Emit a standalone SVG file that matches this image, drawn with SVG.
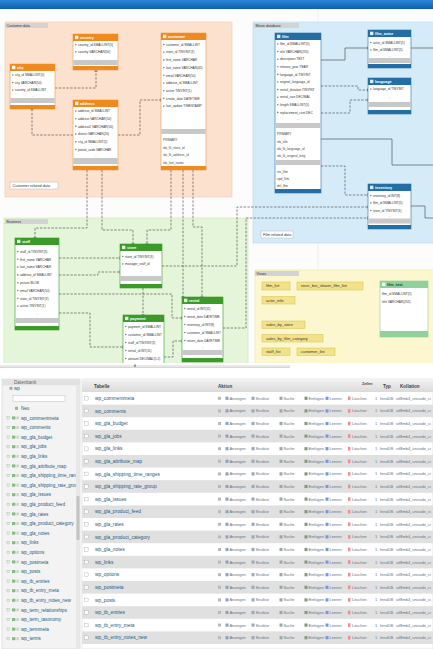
<svg xmlns="http://www.w3.org/2000/svg" width="433" height="649" viewBox="0 0 433 649" font-family="'Liberation Sans', Arial, sans-serif">
<defs>
  <linearGradient id="bar" x1="0" y1="0" x2="0" y2="1">
    <stop offset="0" stop-color="#2c88d8"/><stop offset="1" stop-color="#0f5dab"/>
  </linearGradient>
  <linearGradient id="thead" x1="0" y1="0" x2="0" y2="1">
    <stop offset="0" stop-color="#f3f3f3"/><stop offset="1" stop-color="#dadada"/>
  </linearGradient>
  <marker id="end" viewBox="-2 -2 4 4" markerWidth="4" markerHeight="4" markerUnits="userSpaceOnUse" orient="auto">
    <path d="M0,-1.6V1.6" stroke="#333" stroke-width="0.7"/>
  </marker>
  <clipPath id="canvas"><rect x="0" y="9" width="433" height="354"/></clipPath>
  <clipPath id="navclip"><rect x="2" y="379" width="74" height="270"/></clipPath>
  <!-- one row of the table list: checkbox, action links, engine info -->
  <g id="act">
    <rect x="84.5" y="-1.8" width="3.6" height="3.6" fill="#fff" stroke="#a8a8a8" stroke-width=".4"/>
    <rect x="218" y="-1.5" width="3" height="3" fill="#b9b9b9"/>
    <rect x="225.5" y="-1.6" width="3" height="3.2" fill="#8fa3bb"/>
    <text class="ac" x="229.5" y="1.4">Anzeigen</text>
    <rect x="251.5" y="-1.6" width="3" height="3.2" fill="#9aa7b5"/>
    <text class="ac" x="255.5" y="1.4">Struktur</text>
    <rect x="279.5" y="-1.6" width="3" height="3.2" fill="#9ba8a0"/>
    <text class="ac" x="283.5" y="1.4">Suche</text>
    <rect x="304.5" y="-1.6" width="3" height="3.2" fill="#7e9a7e"/>
    <text class="ac" x="308.5" y="1.4">Einfügen</text>
    <rect x="325.5" y="-1.6" width="3" height="3.2" fill="#7d95d4"/>
    <text class="ac" x="329.5" y="1.4">Leeren</text>
    <rect x="348" y="-1.8" width="2.4" height="3.6" fill="#ee8d8d"/>
    <text class="ac" x="352" y="1.4">Löschen</text>
    <text class="ac" x="375" y="1.4">1</text>
    <text class="ac" x="380" y="1.4">InnoDB</text>
    <text class="ac" x="396" y="1.4">utf8mb4_unicode_ci</text>
  </g>
  <!-- navigation tree row icons -->
  <g id="ni">
    <rect x="7" y="-1.2" width="2.4" height="2.4" fill="none" stroke="#8fb58f" stroke-width=".4"/>
    <rect x="12" y="-1.5" width="3.4" height="3" fill="#86b886"/>
    <rect x="16.4" y="-1.5" width="2.6" height="3" fill="#c7d9c7"/>
  </g>
</defs>
<style>
  .r{font-size:3.2px;fill:#333}
  .ix{font-size:3.2px;fill:#444}
  .ht{font-size:3.8px;fill:#fff;font-weight:bold}
  .mo{font-size:3.2px;fill:#9a9a9a;text-anchor:middle}
  .ft{fill:#c8c8c8}
  .bd{fill:#fff;stroke-width:.6}
  .ic{fill:#fff;opacity:.85}
  .dt{fill:#6f8090}
  .o .bd{stroke:#e39a52}.o .hd{fill:#ee8a1e}
  .b .bd{stroke:#2b6f9f}.b .hd{fill:#236ea5}
  .g .bd{stroke:#3b9a27}.g .hd{fill:#3c9a28}
  .lg .bd{stroke:#8ccc98}.lg .hd{fill:#8fd09b}
  .lg .ht{fill:#23452a}
  .cn path{fill:none;stroke:#4a4a4a;stroke-width:.65;marker-end:url(#end)}
  .cn .d{stroke-dasharray:2.4 1.4}
  .lbl rect{fill:#d3d3d3}
  .lbl text{font-size:3.6px;fill:#333}
  .view rect{fill:#f2e389;stroke:#d2bf58;stroke-width:.5}
  .view text{font-size:4px;fill:#333}
  .note rect{fill:#fff;stroke:#b9b9b9;stroke-width:.5}
  .note text{font-size:3.8px;fill:#333}
  .ac{font-size:3.9px;fill:#5b7088}
  .tn{font-size:4.8px;fill:#235a81}
  .nv{font-size:4.6px;fill:#235a81}
  .th{font-size:4.6px;fill:#444;font-weight:bold}
  .alt{fill:#e0e0e0}
</style>

<!-- window title bar -->
<rect x="0" y="0" width="433" height="9" fill="url(#bar)"/>
<rect x="0" y="9" width="433" height="354" fill="#fcfcfc"/>

<g clip-path="url(#canvas)">
  <!-- grid -->
  <path d="M318,9V363" stroke="#e4e4e4" stroke-width=".6"/>

  <!-- layers -->
  <g id="layer-customer">
    <rect x="5" y="22" width="227" height="175" fill="#fde1cf" stroke="#f1c6ab" stroke-width=".6"/>
    <g class="lbl"><rect x="5" y="23" width="43" height="5"/><text x="6.5" y="26.8">Customer data</text></g>
  </g>
  <g id="layer-movie">
    <rect x="253" y="22" width="182" height="221" fill="#d5ebf8" stroke="#b7d6eb" stroke-width=".6"/>
    <g class="lbl"><rect x="254" y="23" width="45" height="5"/><text x="255.5" y="26.8">Movie database</text></g>
  </g>
  <g id="layer-business">
    <rect x="4" y="218" width="244" height="147" fill="#e4f5d9" stroke="#c6e4b3" stroke-width=".6"/>
    <g class="lbl"><rect x="5" y="219" width="43" height="5"/><text x="6.5" y="222.8">Business</text></g>
  </g>
  <g id="layer-views">
    <rect x="255" y="270" width="180" height="95" fill="#fdf7cf" stroke="#ece09c" stroke-width=".6"/>
    <g class="lbl"><rect x="255" y="271" width="44" height="5"/><text x="256.5" y="274.8">Views</text></g>
  </g>

  <!-- relationships -->
  <g id="connectors" class="cn">
    <path class="d" d="M55,88H96V71"/>
    <path class="d" d="M73,135H32V109"/>
    <path class="d" d="M118,135H140V100H161"/>
    <path class="d" d="M87,170V228H35V238"/>
    <path class="d" d="M102,170V230H133V244"/>
    <path class="d" d="M171,170V230H147V244"/>
    <path class="d" d="M183,170V297"/>
    <path class="d" d="M193,170V227H202V297"/>
    <path class="d" d="M59,258H120"/>
    <path class="d" d="M59,275H98V272H120"/>
    <path class="d" d="M59,294H172V318H182"/>
    <path class="d" d="M59,313H90V347H123"/>
    <path class="d" d="M143,288V315"/>
    <path class="d" d="M164,357H173V341H182"/>
    <path class="d" d="M162,266H237V207H368"/>
    <path class="d" d="M223,328H246V218H368"/>
    <path d="M321,60H345V48H368"/>
    <path d="M411,48H436"/>
    <path class="d" d="M321,86H358V90H368"/>
    <path class="d" d="M321,113H350V100H368"/>
    <path d="M321,139H392V165H436"/>
    <path class="d" d="M321,166H345V195H368"/>
    <path d="M411,206H425V218H436"/>
  </g>

  <!-- Customer data -->
  <g id="t-country" class="o">
    <rect class="bd" x="73" y="34" width="45" height="36"/>
    <rect class="hd" x="73" y="34" width="45" height="7"/>
    <rect class="ic" x="75" y="35.7" width="3.4" height="3.4"/>
    <text class="ht" x="80" y="39.3">country</text>
    <circle class="dt" cx="75.8" cy="44.5" r=".8"/><text class="r" x="78" y="45.7">country_id SMALLINT(5)</text>
    <circle class="dt" cx="75.8" cy="51.8" r=".8"/><text class="r" x="78" y="53">country VARCHAR(50)</text>
    <text class="mo" x="95.5" y="58.5">...</text>
    <rect class="ft" x="73.3" y="60" width="44.4" height="5"/>
    <rect class="hd" x="73" y="66" width="45" height="4"/>
  </g>
  <g id="t-city" class="o">
    <rect class="bd" x="10" y="64" width="45" height="45"/>
    <rect class="hd" x="10" y="64" width="45" height="7"/>
    <rect class="ic" x="12" y="65.7" width="3.4" height="3.4"/>
    <text class="ht" x="17" y="69.3">city</text>
    <circle class="dt" cx="12.8" cy="75" r=".8"/><text class="r" x="15" y="76.2">city_id SMALLINT(5)</text>
    <circle class="dt" cx="12.8" cy="82.5" r=".8"/><text class="r" x="15" y="83.7">city VARCHAR(50)</text>
    <circle class="dt" cx="12.8" cy="90" r=".8"/><text class="r" x="15" y="91.2">country_id SMALLINT</text>
    <text class="mo" x="32.5" y="96.5">...</text>
    <rect class="ft" x="10.3" y="98" width="44.4" height="5"/>
    <rect class="hd" x="10" y="105" width="45" height="4"/>
  </g>
  <g id="t-address" class="o">
    <rect class="bd" x="73" y="100" width="45" height="70"/>
    <rect class="hd" x="73" y="100" width="45" height="7"/>
    <rect class="ic" x="75" y="101.7" width="3.4" height="3.4"/>
    <text class="ht" x="80" y="105.3">address</text>
    <circle class="dt" cx="75.8" cy="111" r=".8"/><text class="r" x="78" y="112.2">address_id SMALLINT</text>
    <circle class="dt" cx="75.8" cy="118.7" r=".8"/><text class="r" x="78" y="119.9">address VARCHAR(50)</text>
    <circle class="dt" cx="75.8" cy="126.4" r=".8"/><text class="r" x="78" y="127.6">address2 VARCHAR(50)</text>
    <circle class="dt" cx="75.8" cy="134.1" r=".8"/><text class="r" x="78" y="135.3">district VARCHAR(20)</text>
    <circle class="dt" cx="75.8" cy="141.8" r=".8"/><text class="r" x="78" y="143">city_id SMALLINT(5)</text>
    <circle class="dt" cx="75.8" cy="149.5" r=".8"/><text class="r" x="78" y="150.7">postal_code VARCHAR</text>
    <text class="mo" x="95.5" y="156.5">...</text>
    <rect class="ft" x="73.3" y="158" width="44.4" height="6"/>
    <rect class="hd" x="73" y="166" width="45" height="4"/>
  </g>
  <g id="t-customer" class="o">
    <rect class="bd" x="161" y="33" width="45" height="137"/>
    <rect class="hd" x="161" y="33" width="45" height="7"/>
    <rect class="ic" x="163" y="34.7" width="3.4" height="3.4"/>
    <text class="ht" x="168" y="38.3">customer</text>
    <circle class="dt" cx="163.8" cy="44.5" r=".8"/><text class="r" x="166" y="45.7">customer_id SMALLINT</text>
    <circle class="dt" cx="163.8" cy="52.2" r=".8"/><text class="r" x="166" y="53.4">store_id TINYINT(3)</text>
    <circle class="dt" cx="163.8" cy="59.9" r=".8"/><text class="r" x="166" y="61.1">first_name VARCHAR</text>
    <circle class="dt" cx="163.8" cy="67.6" r=".8"/><text class="r" x="166" y="68.8">last_name VARCHAR(45)</text>
    <circle class="dt" cx="163.8" cy="75.3" r=".8"/><text class="r" x="166" y="76.5">email VARCHAR(50)</text>
    <circle class="dt" cx="163.8" cy="83" r=".8"/><text class="r" x="166" y="84.2">address_id SMALLINT</text>
    <circle class="dt" cx="163.8" cy="90.7" r=".8"/><text class="r" x="166" y="91.9">active TINYINT(1)</text>
    <circle class="dt" cx="163.8" cy="98.4" r=".8"/><text class="r" x="166" y="99.6">create_date DATETIME</text>
    <circle class="dt" cx="163.8" cy="106.1" r=".8"/><text class="r" x="166" y="107.3">last_update TIMESTAMP</text>
    <rect class="ft" x="161.3" y="129" width="44.4" height="5"/>
    <text class="ix" x="163" y="141.2">PRIMARY</text>
    <text class="ix" x="163" y="148.7">idx_fk_store_id</text>
    <text class="ix" x="163" y="156.2">idx_fk_address_id</text>
    <text class="ix" x="163" y="163.7">idx_last_name</text>
    <rect class="hd" x="161" y="166" width="45" height="4"/>
  </g>
  <g id="note-customer" class="note">
    <rect x="10" y="182" width="48" height="7"/>
    <text x="12.5" y="186.8">Customer related data</text>
  </g>

  <!-- Movie database -->
  <g id="t-film" class="b">
    <rect class="bd" x="275" y="33" width="46" height="160"/>
    <rect class="hd" x="275" y="33" width="46" height="7"/>
    <rect class="ic" x="277" y="34.7" width="3.4" height="3.4"/>
    <text class="ht" x="282" y="38.3">film</text>
    <circle class="dt" cx="277.8" cy="44" r=".8"/><text class="r" x="280" y="45.2">film_id SMALLINT(5)</text>
    <circle class="dt" cx="277.8" cy="51.6" r=".8"/><text class="r" x="280" y="52.8">title VARCHAR(255)</text>
    <circle class="dt" cx="277.8" cy="59.2" r=".8"/><text class="r" x="280" y="60.4">description TEXT</text>
    <circle class="dt" cx="277.8" cy="66.8" r=".8"/><text class="r" x="280" y="68">release_year YEAR</text>
    <circle class="dt" cx="277.8" cy="74.4" r=".8"/><text class="r" x="280" y="75.6">language_id TINYINT</text>
    <circle class="dt" cx="277.8" cy="82" r=".8"/><text class="r" x="280" y="83.2">original_language_id</text>
    <circle class="dt" cx="277.8" cy="89.6" r=".8"/><text class="r" x="280" y="90.8">rental_duration TINYINT</text>
    <circle class="dt" cx="277.8" cy="97.2" r=".8"/><text class="r" x="280" y="98.4">rental_rate DECIMAL</text>
    <circle class="dt" cx="277.8" cy="104.8" r=".8"/><text class="r" x="280" y="106">length SMALLINT(5)</text>
    <circle class="dt" cx="277.8" cy="112.4" r=".8"/><text class="r" x="280" y="113.6">replacement_cost DEC</text>
    <text class="mo" x="298" y="119.5">...</text>
    <rect class="ft" x="275.3" y="123" width="45.4" height="5"/>
    <text class="ix" x="277" y="135.2">PRIMARY</text>
    <text class="ix" x="277" y="142.5">idx_title</text>
    <text class="ix" x="277" y="149.8">idx_fk_language_id</text>
    <text class="ix" x="277" y="157.1">idx_fk_original_lang</text>
    <rect class="ft" x="275.3" y="160" width="45.4" height="5"/>
    <text class="ix" x="277" y="172.7">ins_film</text>
    <text class="ix" x="277" y="180">upd_film</text>
    <text class="ix" x="277" y="187.2">del_film</text>
    <rect class="hd" x="275" y="189" width="46" height="4"/>
  </g>
  <g id="t-film_actor" class="b">
    <rect class="bd" x="368" y="30" width="43" height="38"/>
    <rect class="hd" x="368" y="30" width="43" height="7"/>
    <rect class="ic" x="370" y="31.7" width="3.4" height="3.4"/>
    <text class="ht" x="375" y="35.3">film_actor</text>
    <circle class="dt" cx="370.8" cy="42.5" r=".8"/><text class="r" x="373" y="43.7">actor_id SMALLINT(5)</text>
    <circle class="dt" cx="370.8" cy="50" r=".8"/><text class="r" x="373" y="51.2">film_id SMALLINT(5)</text>
    <text class="mo" x="389.5" y="56.5">...</text>
    <rect class="ft" x="368.3" y="58" width="42.4" height="5"/>
    <rect class="hd" x="368" y="64" width="43" height="4"/>
  </g>
  <g id="t-language" class="b">
    <rect class="bd" x="368" y="78" width="43" height="36"/>
    <rect class="hd" x="368" y="78" width="43" height="7"/>
    <rect class="ic" x="370" y="79.7" width="3.4" height="3.4"/>
    <text class="ht" x="375" y="83.3">language</text>
    <circle class="dt" cx="370.8" cy="89" r=".8"/><text class="r" x="373" y="90.2">language_id TINYINT</text>
    <text class="mo" x="389.5" y="97.5">...</text>
    <rect class="ft" x="368.3" y="102" width="42.4" height="5"/>
    <rect class="hd" x="368" y="110" width="43" height="4"/>
  </g>
  <g id="t-inventory" class="b">
    <rect class="bd" x="368" y="184" width="43" height="45"/>
    <rect class="hd" x="368" y="184" width="43" height="7"/>
    <rect class="ic" x="370" y="185.7" width="3.4" height="3.4"/>
    <text class="ht" x="375" y="189.3">inventory</text>
    <circle class="dt" cx="370.8" cy="195.5" r=".8"/><text class="r" x="373" y="196.7">inventory_id INT(8)</text>
    <circle class="dt" cx="370.8" cy="203" r=".8"/><text class="r" x="373" y="204.2">film_id SMALLINT(5)</text>
    <circle class="dt" cx="370.8" cy="210.5" r=".8"/><text class="r" x="373" y="211.7">store_id TINYINT(3)</text>
    <text class="mo" x="389.5" y="217">...</text>
    <rect class="ft" x="368.3" y="218.5" width="42.4" height="5"/>
    <rect class="hd" x="368" y="225" width="43" height="4"/>
  </g>
  <g id="note-film" class="note">
    <rect x="261" y="231" width="32" height="7"/>
    <text x="263" y="235.8">Film related data</text>
  </g>

  <!-- Business -->
  <g id="t-staff" class="g">
    <rect class="bd" x="15" y="238" width="44" height="92"/>
    <rect class="hd" x="15" y="238" width="44" height="7"/>
    <rect class="ic" x="17" y="239.7" width="3.4" height="3.4"/>
    <text class="ht" x="22" y="243.3">staff</text>
    <circle class="dt" cx="17.8" cy="251.5" r=".8"/><text class="r" x="20" y="252.7">staff_id TINYINT(3)</text>
    <circle class="dt" cx="17.8" cy="259.3" r=".8"/><text class="r" x="20" y="260.5">first_name VARCHAR</text>
    <circle class="dt" cx="17.8" cy="267.1" r=".8"/><text class="r" x="20" y="268.3">last_name VARCHAR</text>
    <circle class="dt" cx="17.8" cy="274.9" r=".8"/><text class="r" x="20" y="276.1">address_id SMALLINT</text>
    <circle class="dt" cx="17.8" cy="282.7" r=".8"/><text class="r" x="20" y="283.9">picture BLOB</text>
    <circle class="dt" cx="17.8" cy="290.5" r=".8"/><text class="r" x="20" y="291.7">email VARCHAR(50)</text>
    <circle class="dt" cx="17.8" cy="298.3" r=".8"/><text class="r" x="20" y="299.5">store_id TINYINT(3)</text>
    <circle class="dt" cx="17.8" cy="306.1" r=".8"/><text class="r" x="20" y="307.3">active TINYINT(1)</text>
    <text class="mo" x="37" y="314.5">...</text>
    <rect class="ft" x="15.3" y="318" width="43.4" height="5"/>
    <rect class="hd" x="15" y="326" width="44" height="4"/>
  </g>
  <g id="t-store" class="g">
    <rect class="bd" x="120" y="244" width="42" height="44"/>
    <rect class="hd" x="120" y="244" width="42" height="7"/>
    <rect class="ic" x="122" y="245.7" width="3.4" height="3.4"/>
    <text class="ht" x="127" y="249.3">store</text>
    <circle class="dt" cx="122.8" cy="256.5" r=".8"/><text class="r" x="125" y="257.7">store_id TINYINT(3)</text>
    <circle class="dt" cx="122.8" cy="264" r=".8"/><text class="r" x="125" y="265.2">manager_staff_id</text>
    <text class="mo" x="141" y="272">...</text>
    <rect class="ft" x="120.3" y="276" width="41.4" height="5"/>
    <rect class="hd" x="120" y="284" width="42" height="4"/>
  </g>
  <g id="t-payment" class="g">
    <rect class="bd" x="123" y="315" width="41" height="60"/>
    <rect class="hd" x="123" y="315" width="41" height="7"/>
    <rect class="ic" x="125" y="316.7" width="3.4" height="3.4"/>
    <text class="ht" x="130" y="320.3">payment</text>
    <circle class="dt" cx="125.8" cy="326.5" r=".8"/><text class="r" x="128" y="327.7">payment_id SMALLINT</text>
    <circle class="dt" cx="125.8" cy="334.5" r=".8"/><text class="r" x="128" y="335.7">customer_id SMALLINT</text>
    <circle class="dt" cx="125.8" cy="342.5" r=".8"/><text class="r" x="128" y="343.7">staff_id TINYINT(3)</text>
    <circle class="dt" cx="125.8" cy="350.5" r=".8"/><text class="r" x="128" y="351.7">rental_id INT(11)</text>
    <circle class="dt" cx="125.8" cy="358.5" r=".8"/><text class="r" x="128" y="359.7">amount DECIMAL(5,2)</text>
  </g>
  <g id="t-rental" class="g">
    <rect class="bd" x="182" y="297" width="41" height="65"/>
    <rect class="hd" x="182" y="297" width="41" height="7"/>
    <rect class="ic" x="184" y="298.7" width="3.4" height="3.4"/>
    <text class="ht" x="189" y="302.3">rental</text>
    <circle class="dt" cx="184.8" cy="308.5" r=".8"/><text class="r" x="187" y="309.7">rental_id INT(11)</text>
    <circle class="dt" cx="184.8" cy="316.5" r=".8"/><text class="r" x="187" y="317.7">rental_date DATETIME</text>
    <circle class="dt" cx="184.8" cy="324.5" r=".8"/><text class="r" x="187" y="325.7">inventory_id INT(8)</text>
    <circle class="dt" cx="184.8" cy="332.5" r=".8"/><text class="r" x="187" y="333.7">customer_id SMALLINT</text>
    <circle class="dt" cx="184.8" cy="340.5" r=".8"/><text class="r" x="187" y="341.7">return_date DATETIME</text>
    <text class="mo" x="202.5" y="348">...</text>
    <rect class="ft" x="182.3" y="350" width="40.4" height="5"/>
    <rect class="hd" x="182" y="358" width="41" height="4"/>
  </g>

  <!-- Views -->
  <g id="v-film_list" class="view"><rect x="262" y="282" width="28" height="8"/><text x="266" y="287.4">film_list</text></g>
  <g id="v-nicer" class="view"><rect x="297" y="282" width="66" height="8"/><text x="301" y="287.4">nicer_but_slower_film_list</text></g>
  <g id="v-actor_info" class="view"><rect x="262" y="296.5" width="33" height="7.5"/><text x="266" y="301.6">actor_info</text></g>
  <g id="v-sales_store" class="view"><rect x="262" y="321" width="43" height="7.5"/><text x="266" y="326.1">sales_by_store</text></g>
  <g id="v-sales_cat" class="view"><rect x="262" y="334.5" width="61" height="7.5"/><text x="266" y="339.6">sales_by_film_category</text></g>
  <g id="v-staff_list" class="view"><rect x="262" y="348" width="28" height="7.5"/><text x="266" y="353.1">staff_list</text></g>
  <g id="v-customer_list" class="view"><rect x="297" y="348" width="38" height="7.5"/><text x="301" y="353.1">customer_list</text></g>
  <g id="t-film_text" class="lg">
    <rect class="bd" x="380" y="281" width="48" height="56"/>
    <rect class="hd" x="380" y="281" width="48" height="7"/>
    <rect class="ic" x="382" y="282.7" width="3.4" height="3.4"/>
    <text class="ht" x="387" y="286.3">film_text</text>
    <text class="r" x="382" y="294.7">film_id SMALLINT(5)</text>
    <text class="r" x="382" y="302.7">title VARCHAR(255)</text>
    <rect class="hd" x="380" y="331" width="48" height="6"/>
  </g>
</g>

<!-- canvas scrollbar -->
<rect x="0" y="365" width="290" height="3" fill="#e8e8e8"/>
<path d="M0,367.5H290" stroke="#c9c9c9" stroke-width=".6"/>
<rect x="134" y="364.5" width="2" height="2.5" fill="#999"/>

<!-- navigation panel -->
<g id="navigation">
  <rect x="2" y="379" width="78" height="270" fill="#f3f3f3" stroke="#cfcfcf" stroke-width=".6"/>
  <rect x="2.3" y="379.3" width="77.4" height="6" fill="#e1e1e1"/>
  <text class="nv" x="14" y="384" style="fill:#666">Datenbank</text>
  <rect x="9.5" y="386.8" width="3" height="3" fill="#9bb09b"/>
  <text class="nv" x="14" y="390.2">wp</text>
  <rect x="13" y="395.5" width="52" height="6" fill="#fff" stroke="#bdbdbd" stroke-width=".5"/>
  <rect x="76" y="386" width="4" height="262" fill="#e7e7e7"/>
  <rect x="76.5" y="496" width="3" height="44" rx="1" fill="#c3c3c3"/>
  <g clip-path="url(#navclip)">
    <rect x="15" y="406.8" width="3" height="3" fill="#9bb09b"/>
    <text class="nv" x="21" y="410">Neu</text>
    <use href="#ni" y="417.9"/><text class="nv" x="21" y="419.6">wp_commentmeta</text>
    <use href="#ni" y="427.5"/><text class="nv" x="21" y="429.2">wp_comments</text>
    <use href="#ni" y="437.1"/><text class="nv" x="21" y="438.8">wp_gla_budget</text>
    <use href="#ni" y="446.7"/><text class="nv" x="21" y="448.4">wp_gla_jobs</text>
    <use href="#ni" y="456.3"/><text class="nv" x="21" y="458">wp_gla_links</text>
    <use href="#ni" y="465.9"/><text class="nv" x="21" y="467.6">wp_gla_attribute_map</text>
    <use href="#ni" y="475.5"/><text class="nv" x="21" y="477.2">wp_gla_shipping_time_ranges</text>
    <use href="#ni" y="485.1"/><text class="nv" x="21" y="486.8">wp_gla_shipping_rate_group</text>
    <use href="#ni" y="494.7"/><text class="nv" x="21" y="496.4">wp_gla_issues</text>
    <use href="#ni" y="504.3"/><text class="nv" x="21" y="506">wp_gla_product_feed</text>
    <use href="#ni" y="513.9"/><text class="nv" x="21" y="515.6">wp_gla_rates</text>
    <use href="#ni" y="523.5"/><text class="nv" x="21" y="525.2">wp_gla_product_category</text>
    <use href="#ni" y="533.1"/><text class="nv" x="21" y="534.8">wp_gla_notes</text>
    <use href="#ni" y="542.7"/><text class="nv" x="21" y="544.4">wp_links</text>
    <use href="#ni" y="552.3"/><text class="nv" x="21" y="554">wp_options</text>
    <use href="#ni" y="561.9"/><text class="nv" x="21" y="563.6">wp_postmeta</text>
    <use href="#ni" y="571.5"/><text class="nv" x="21" y="573.2">wp_posts</text>
    <use href="#ni" y="581.1"/><text class="nv" x="21" y="582.8">wp_tb_entries</text>
    <use href="#ni" y="590.7"/><text class="nv" x="21" y="592.4">wp_tb_entry_meta</text>
    <use href="#ni" y="600.3"/><text class="nv" x="21" y="602">wp_tb_entry_notes_new</text>
    <use href="#ni" y="609.9"/><text class="nv" x="21" y="611.6">wp_term_relationships</text>
    <use href="#ni" y="619.5"/><text class="nv" x="21" y="621.2">wp_term_taxonomy</text>
    <use href="#ni" y="629.1"/><text class="nv" x="21" y="630.8">wp_termmeta</text>
    <use href="#ni" y="638.7"/><text class="nv" x="21" y="640.4">wp_terms</text>
  </g>
</g>

<!-- table list -->
<g id="table-list">
  <rect x="82" y="379" width="351" height="270" fill="#fff" stroke="#d8d8d8" stroke-width=".6"/>
  <rect x="82" y="379" width="351" height="13" fill="url(#thead)"/>
  <text class="th" x="94" y="387.6">Tabelle</text>
  <text class="th" x="218" y="387.6">Aktion</text>
  <text class="th" x="362" y="385" style="font-size:3.6px">Zeilen</text>
  <text class="th" x="383" y="387.6">Typ</text>
  <text class="th" x="400" y="387.6">Kollation</text>

  <rect class="alt" x="82" y="404.6" width="351" height="12.6"/>
  <rect class="alt" x="82" y="429.8" width="351" height="12.6"/>
  <rect class="alt" x="82" y="455" width="351" height="12.6"/>
  <rect class="alt" x="82" y="480.2" width="351" height="12.6"/>
  <rect class="alt" x="82" y="505.4" width="351" height="12.6"/>
  <rect class="alt" x="82" y="530.6" width="351" height="12.6"/>
  <rect class="alt" x="82" y="555.8" width="351" height="12.6"/>
  <rect class="alt" x="82" y="581" width="351" height="12.6"/>
  <rect class="alt" x="82" y="606.2" width="351" height="12.6"/>
  <rect class="alt" x="82" y="631.4" width="351" height="12.6"/>

  <use href="#act" y="398.3"/><text class="tn" x="95" y="400">wp_commentmeta</text>
  <use href="#act" y="410.9"/><text class="tn" x="95" y="412.6">wp_comments</text>
  <use href="#act" y="423.5"/><text class="tn" x="95" y="425.2">wp_gla_budget</text>
  <use href="#act" y="436.1"/><text class="tn" x="95" y="437.8">wp_gla_jobs</text>
  <use href="#act" y="448.7"/><text class="tn" x="95" y="450.4">wp_gla_links</text>
  <use href="#act" y="461.3"/><text class="tn" x="95" y="463">wp_gla_attribute_map</text>
  <use href="#act" y="473.9"/><text class="tn" x="95" y="475.6">wp_gla_shipping_time_ranges</text>
  <use href="#act" y="486.5"/><text class="tn" x="95" y="488.2">wp_gla_shipping_rate_group</text>
  <use href="#act" y="499.1"/><text class="tn" x="95" y="500.8">wp_gla_issues</text>
  <use href="#act" y="511.7"/><text class="tn" x="95" y="513.4">wp_gla_product_feed</text>
  <use href="#act" y="524.3"/><text class="tn" x="95" y="526">wp_gla_rates</text>
  <use href="#act" y="536.9"/><text class="tn" x="95" y="538.6">wp_gla_product_category</text>
  <use href="#act" y="549.5"/><text class="tn" x="95" y="551.2">wp_gla_notes</text>
  <use href="#act" y="562.1"/><text class="tn" x="95" y="563.8">wp_links</text>
  <use href="#act" y="574.7"/><text class="tn" x="95" y="576.4">wp_options</text>
  <use href="#act" y="587.3"/><text class="tn" x="95" y="589">wp_postmeta</text>
  <use href="#act" y="599.9"/><text class="tn" x="95" y="601.6">wp_posts</text>
  <use href="#act" y="612.5"/><text class="tn" x="95" y="614.2">wp_tb_entries</text>
  <use href="#act" y="625.1"/><text class="tn" x="95" y="626.8">wp_tb_entry_meta</text>
  <use href="#act" y="637.7"/><text class="tn" x="95" y="639.4">wp_tb_entry_notes_new</text>
</g>
</svg>
